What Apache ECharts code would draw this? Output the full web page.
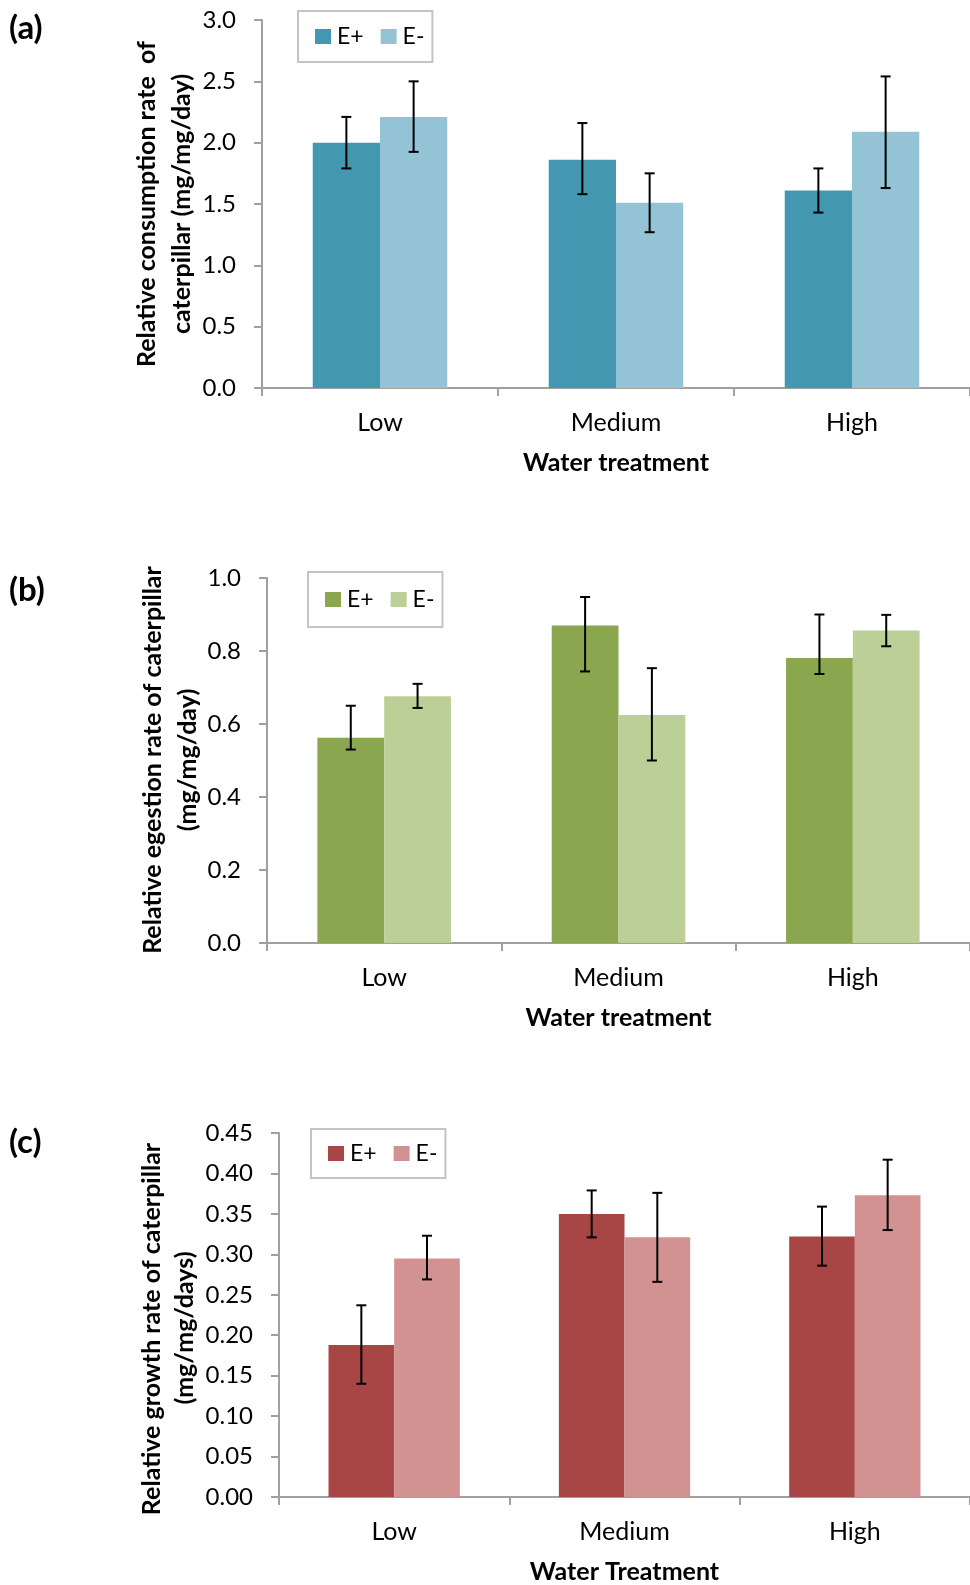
<!DOCTYPE html>
<html>
<head>
<meta charset="utf-8">
<script src="https://cdn.jsdelivr.net/npm/echarts@6/dist/echarts.min.js"></script>
<style>
html,body{margin:0;padding:0;background:#fff;}
#chart{width:970px;height:1585px;}
</style>
</head>
<body>
<div id="chart"></div>
<script>
// ---- Data ----
var categories = ['Low', 'Medium', 'High'];
var seriesNames = ['E+', 'E-'];

// (a) Relative consumption rate
var aEplus = [2.00, 1.86, 1.61];
var aEplusLo = [1.79, 1.58, 1.43];
var aEplusHi = [2.21, 2.16, 1.79];
var aEminus = [2.21, 1.51, 2.09];
var aEminusLo = [1.925, 1.27, 1.63];
var aEminusHi = [2.50, 1.75, 2.54];

// (b) Relative egestion rate
var bEplus = [0.562, 0.870, 0.781];
var bEplusLo = [0.530, 0.744, 0.737];
var bEplusHi = [0.650, 0.948, 0.900];
var bEminus = [0.676, 0.625, 0.856];
var bEminusLo = [0.644, 0.500, 0.813];
var bEminusHi = [0.710, 0.753, 0.899];

// (c) Relative growth rate
var cEplus = [0.188, 0.350, 0.322];
var cEplusLo = [0.140, 0.321, 0.286];
var cEplusHi = [0.237, 0.379, 0.359];
var cEminus = [0.295, 0.321, 0.373];
var cEminusLo = [0.269, 0.266, 0.330];
var cEminusHi = [0.323, 0.376, 0.417];

var yTicksA = {min: 0, max: 3.0, interval: 0.5, decimals: 1};
var yTicksB = {min: 0, max: 1.0, interval: 0.2, decimals: 1};
var yTicksC = {min: 0, max: 0.45, interval: 0.05, decimals: 2};

// ---- Styles ----
var FONT = 'Lato';
var AXIS_GRAY = '#a0a0a0';
var colorsA = ['#4397b0', '#94c3d5'];
var colorsB = ['#8aa64f', '#bbcf97'];
var colorsC = ['#a84646', '#d29292'];

var panels = [
  {grid: {left: 262, top: 20, width: 714, height: 368}, ticks: yTicksA, colors: colorsA,
   plus: aEplus, plusLo: aEplusLo, plusHi: aEplusHi, minus: aEminus, minusLo: aEminusLo, minusHi: aEminusHi,
   xName: 'Water treatment', legend: {left: 298, top: 11, height: 51}},
  {grid: {left: 267, top: 578, width: 704, height: 365}, ticks: yTicksB, colors: colorsB,
   plus: bEplus, plusLo: bEplusLo, plusHi: bEplusHi, minus: bEminus, minusLo: bEminusLo, minusHi: bEminusHi,
   xName: 'Water treatment', legend: {left: 308, top: 572, height: 55}},
  {grid: {left: 279, top: 1133, width: 694, height: 364}, ticks: yTicksC, colors: colorsC,
   plus: cEplus, plusLo: cEplusLo, plusHi: cEplusHi, minus: cEminus, minusLo: cEminusLo, minusHi: cEminusHi,
   xName: 'Water Treatment', legend: {left: 311, top: 1129, height: 49}}
];

function errRender(sign) {
  return function (params, api) {
    var lo = api.coord([api.value(0), api.value(1)]);
    var hi = api.coord([api.value(0), api.value(2)]);
    var band = api.size([1, 0])[0];
    var x = lo[0] + sign * band * 0.1425;
    var cap = 5;
    var st = {stroke: '#000', lineWidth: 2};
    return {type: 'group', children: [
      {type: 'line', shape: {x1: x, y1: lo[1], x2: x, y2: hi[1]}, style: st},
      {type: 'line', shape: {x1: x - cap, y1: lo[1], x2: x + cap, y2: lo[1]}, style: st},
      {type: 'line', shape: {x1: x - cap, y1: hi[1], x2: x + cap, y2: hi[1]}, style: st}
    ]};
  };
}

var grids = [], xAxes = [], yAxes = [], series = [], legends = [];
panels.forEach(function (p, i) {
  grids.push(p.grid);
  xAxes.push({
    type: 'category', gridIndex: i, data: categories,
    axisLine: {lineStyle: {color: AXIS_GRAY, width: 2}},
    axisTick: {show: true, length: 8, lineStyle: {color: AXIS_GRAY, width: 2}},
    axisLabel: {color: '#000', fontFamily: FONT, fontSize: 25, margin: 22},
    name: p.xName, nameLocation: 'middle', nameGap: 62,
    nameTextStyle: {color: '#000', fontFamily: FONT, fontSize: 25, fontWeight: 'bold'}
  });
  yAxes.push({
    type: 'value', gridIndex: i, min: p.ticks.min, max: p.ticks.max, interval: p.ticks.interval,
    axisLine: {show: true, lineStyle: {color: AXIS_GRAY, width: 2}},
    axisTick: {show: true, length: 8, lineStyle: {color: AXIS_GRAY, width: 2}},
    splitLine: {show: false},
    axisLabel: {color: '#000', fontFamily: FONT, fontSize: 24, margin: 26,
      formatter: (function (d) { return function (v) { return v.toFixed(d); }; })(p.ticks.decimals)}
  });
  series.push({
    name: seriesNames[0], type: 'bar', xAxisIndex: i, yAxisIndex: i, data: p.plus,
    barGap: '0%', barCategoryGap: '43%', itemStyle: {color: p.colors[0]}, animation: false
  });
  series.push({
    name: seriesNames[1], type: 'bar', xAxisIndex: i, yAxisIndex: i, data: p.minus,
    barGap: '0%', barCategoryGap: '43%', itemStyle: {color: p.colors[1]}, animation: false
  });
  series.push({
    name: 'errPlus' + i, type: 'custom', xAxisIndex: i, yAxisIndex: i, z: 10, animation: false,
    renderItem: errRender(-1), encode: {x: 0, y: [1, 2]},
    data: categories.map(function (c, k) { return [k, p.plusLo[k], p.plusHi[k]]; })
  });
  series.push({
    name: 'errMinus' + i, type: 'custom', xAxisIndex: i, yAxisIndex: i, z: 10, animation: false,
    renderItem: errRender(1), encode: {x: 0, y: [1, 2]},
    data: categories.map(function (c, k) { return [k, p.minusLo[k], p.minusHi[k]]; })
  });
  var vpad = Math.round((p.legend.height - 24) / 2);
  legends.push({
    left: p.legend.left, top: p.legend.top, orient: 'horizontal',
    padding: [vpad, 8, vpad, 17],
    borderColor: '#c4c4c4', borderWidth: 2, itemGap: 17,
    itemWidth: 16, itemHeight: 15, icon: 'rect', selectedMode: false,
    textStyle: {color: '#000', fontFamily: FONT, fontSize: 23, padding: [0, 0, 0, 1]},
    data: [
      {name: seriesNames[0], itemStyle: {color: p.colors[0]}},
      {name: seriesNames[1], itemStyle: {color: p.colors[1]}}
    ]
  });
});

function vText(txt, x, y) {
  return {type: 'text', x: x, y: y, rotation: Math.PI / 2,
    style: {text: txt, fill: '#000', font: 'bold 25px ' + FONT, align: 'center', verticalAlign: 'middle'}};
}
function pText(txt, x, y) {
  return {type: 'text', x: x, y: y,
    style: {text: txt, fill: '#000', font: 'bold 33px ' + FONT, align: 'left', verticalAlign: 'middle'}};
}

var option = {
  backgroundColor: '#fff',
  animation: false,
  grid: grids, xAxis: xAxes, yAxis: yAxes, series: series, legend: legends,
  graphic: [
    pText('(a)', 9, 28),
    pText('(b)', 9, 590),
    pText('(c)', 9, 1142),
    vText('Relative consumption rate  of', 147, 204),
    vText('caterpillar (mg/mg/day)', 182, 204),
    vText('Relative egestion rate of caterpillar', 153, 760),
    vText('(mg/mg/day)', 188, 760),
    vText('Relative growth rate of caterpillar', 152, 1329),
    vText('(mg/mg/days)', 185, 1328)
  ]
};

var chart = echarts.init(document.getElementById('chart'), null, {renderer: 'canvas'});
chart.setOption(option);
</script>
</body>
</html>
